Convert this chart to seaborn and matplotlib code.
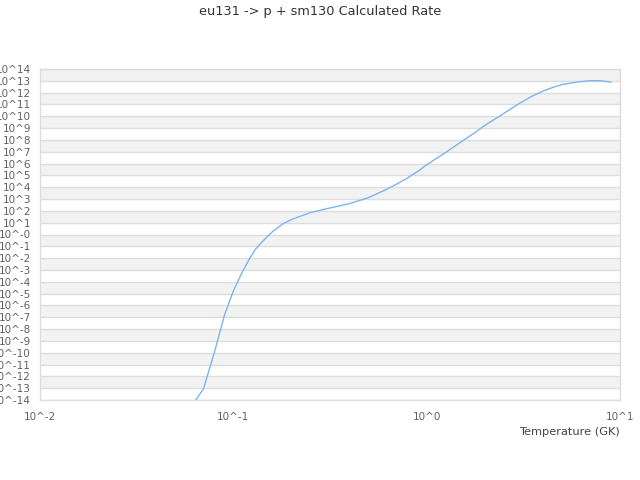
import matplotlib
matplotlib.use("Agg")
import matplotlib.pyplot as plt
import seaborn as sns
import pandas as pd

title = "eu131 -> p + sm130 Calculated Rate"
x_label = "Temperature (GK)"

temperature = [0.06, 0.07, 0.08, 0.09, 0.1, 0.11, 0.12, 0.13, 0.14, 0.15, 0.16,
               0.18, 0.2, 0.25, 0.3, 0.35, 0.4, 0.45, 0.5, 0.6, 0.7, 0.8, 0.9,
               1.0, 1.25, 1.5, 1.75, 2.0, 2.5, 3.0, 3.5, 4.0, 4.5, 5.0, 6.0,
               7.0, 8.0, 9.0]
rate = [2.3e-15, 8.5e-14, 1.23e-10, 1.55e-7, 1.66e-5, 4.6e-4, 6.6e-3, 0.055,
        0.214, 0.676, 1.82, 7.9, 18.6, 71, 145, 251, 417, 759, 1320, 5130,
        1.82e4, 6.46e4, 2.19e5, 7.94e5, 8.5e6, 6.46e7, 3.55e8, 1.70e9,
        1.70e10, 1.17e11, 4.9e11, 1.35e12, 2.82e12, 4.79e12, 7.94e12,
        1.02e13, 1.02e13, 7.59e12]

x_tick_exps = [-2, -1, 0, 1]
x_tick_labels = ["10^-2", "10^-1", "10^0", "10^1"]
y_tick_exps = list(range(-14, 15))
y_tick_labels = [("10^%d" % e) if e > 0 else ("10^-%d" % abs(e)) for e in y_tick_exps]

df = pd.DataFrame({"T": temperature, "rate": rate})

sns.set_style("white")
plt.rcParams['font.family'] = ['DejaVu Sans']

fig = plt.figure(figsize=(6.4, 4.8), dpi=100)
ax = fig.add_axes([40/640, 1 - 400/480, 580/640, 331/480])

# alternating bands
for e in range(-13, 14, 2):
    ax.axhspan(10.0**e, 10.0**(e + 1), color="#f2f2f2", zorder=0, lw=0)

sns.lineplot(data=df, x="T", y="rate", ax=ax, color="#7cb5ec", linewidth=1.0,
             zorder=3)

ax.set_xscale("log")
ax.set_yscale("log")
ax.set_xlim(1e-2, 1e1)
ax.set_ylim(1e-14, 1e14)

ax.set_xticks([10.0**e for e in x_tick_exps])
ax.set_xticklabels(x_tick_labels)
ax.set_yticks([10.0**e for e in y_tick_exps])
ax.set_yticklabels(y_tick_labels)
ax.minorticks_off()
ax.tick_params(axis="both", length=0, labelsize=7.5, colors="#606060")
ax.tick_params(axis="y", pad=6.5)
ax.tick_params(axis="x", pad=9)

ax.grid(False)
for e in y_tick_exps:
    ax.axhline(10.0**e, color="#dddddd", lw=1, zorder=1)

for s in ax.spines.values():
    s.set_color("#dddddd")
    s.set_linewidth(1)

ax.set_xlabel(x_label, fontsize=8.2, color="#444444", loc="right", labelpad=3)
ax.set_ylabel("")
fig.suptitle(title, fontsize=9.3, color="#333333", y=1 - 12/480, va="center")

fig.savefig("out.png", dpi=100)
